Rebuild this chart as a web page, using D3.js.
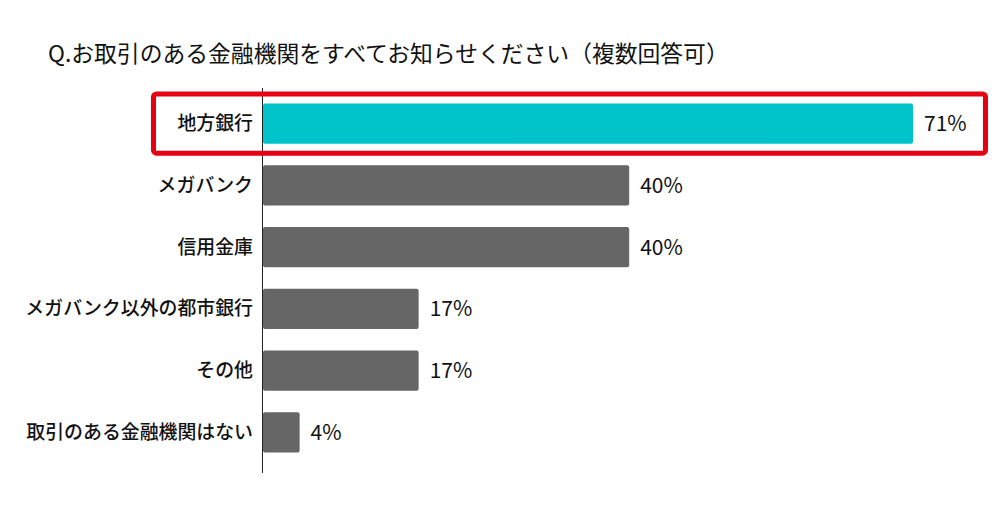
<!DOCTYPE html>
<html><head><meta charset="utf-8">
<script src="https://cdn.jsdelivr.net/npm/d3@7"></script>
<style>body{margin:0;background:#fff;} svg{display:block;font-family:"Noto Sans CJK JP","Noto Sans",sans-serif;}</style>
</head><body><svg id="c" width="1000" height="524"></svg>
<script>
const title = "Q.お取引のある金融機関をすべてお知らせください（複数回答可）";
const categories = ["地方銀行","メガバンク","信用金庫","メガバンク以外の都市銀行","その他","取引のある金融機関はない"];
const values = [71,40,40,17,17,4];
const highlight = "地方銀行";

const svg = d3.select("#c");
const x0 = 263;
const x = d3.scaleLinear().domain([0,71]).range([x0,913]);
const y = d3.scaleBand().domain(categories).range([93,463]).paddingInner(0.35).paddingOuter(0.17);

svg.append("text").attr("x",48).attr("y",62).attr("font-size",22.8).attr("font-weight",400).attr("fill","#111").text(title);

svg.append("line").attr("x1",x0-0.5).attr("x2",x0-0.5).attr("y1",88).attr("y2",473).attr("stroke","#222").attr("stroke-width",1);

svg.selectAll("rect.bar").data(categories).enter().append("rect").attr("class","bar")
  .attr("x",x0).attr("y",d=>y(d)).attr("height",y.bandwidth())
  .attr("width",(d,i)=>x(values[i])-x0).attr("rx",2)
  .attr("fill",d=>d===highlight?"#00c3c9":"#666666");

svg.selectAll("text.lab").data(categories).enter().append("text").attr("class","lab")
  .attr("x",x0-10).attr("y",d=>y(d)+y.bandwidth()/2).attr("dy","0.35em")
  .attr("text-anchor","end").attr("font-size",18.9).attr("font-weight",500).attr("fill","#111").text(d=>d);

svg.selectAll("text.val").data(categories).enter().append("text").attr("class","val")
  .attr("x",(d,i)=>x(values[i])+11).attr("y",d=>y(d)+y.bandwidth()/2).attr("dy","0.36em")
  .attr("font-size",21).attr("font-weight",400).attr("fill","#111").text((d,i)=>values[i]+"%");

const hy = y(highlight);
svg.append("rect").attr("x",153.5).attr("y",hy-9.5).attr("width",832).attr("height",y.bandwidth()+19)
  .attr("rx",3).attr("fill","none").attr("stroke","#e60012").attr("stroke-width",5);
</script></body></html>
